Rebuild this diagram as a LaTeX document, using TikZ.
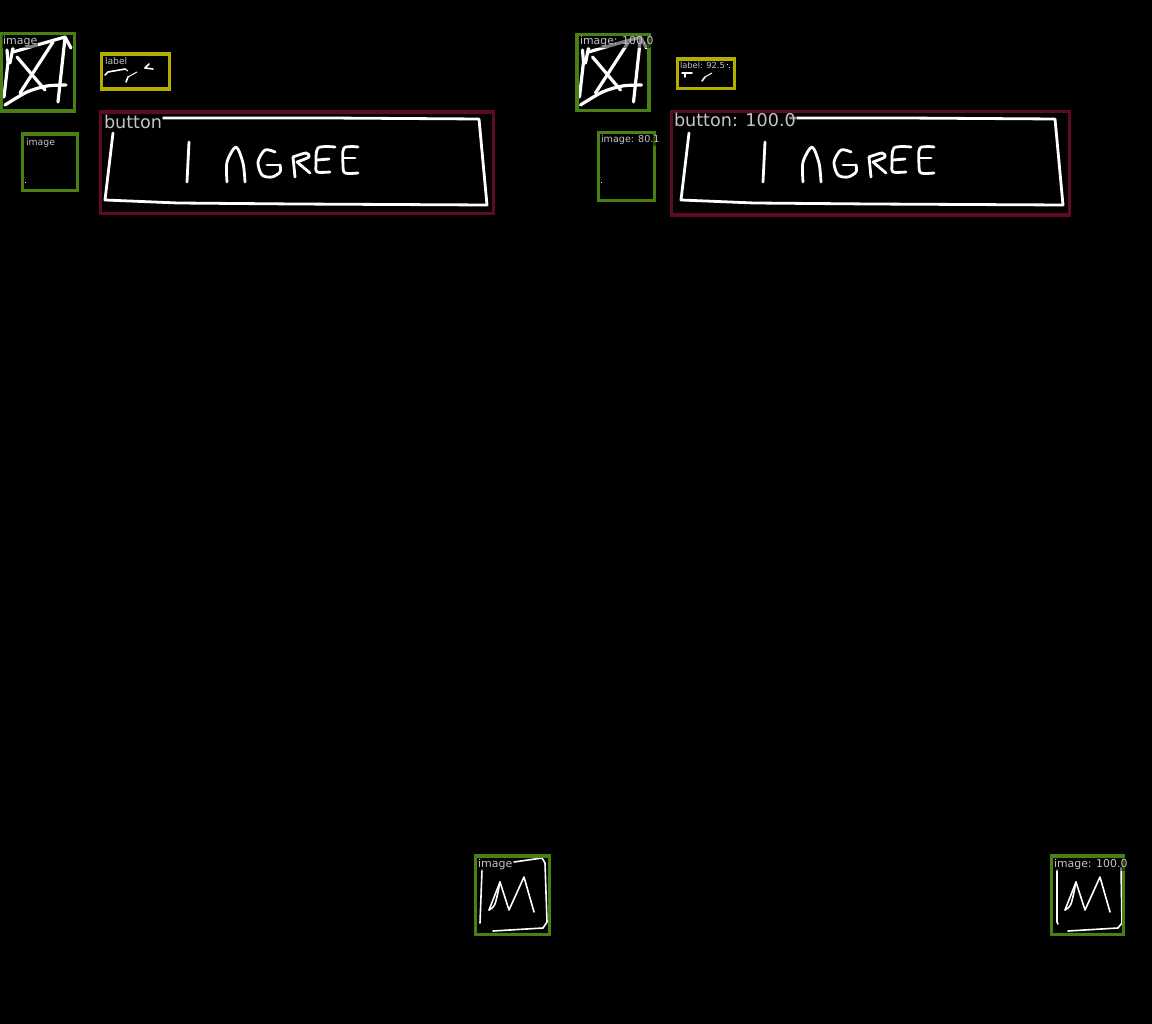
\documentclass[tikz,border=0pt]{standalone}
\usepackage{fontspec}
\setmainfont{DejaVu Sans}
\definecolor{boxgreen}{HTML}{4A7F12}
\definecolor{boxyellow}{HTML}{B4AE00}
\definecolor{boxred}{HTML}{5E0A20}
\definecolor{tagtext}{HTML}{C4C4C4}
% the hand drawn contents, repeated on both sides
\newcommand{\sketchcross}{
  \draw[ink,line width=3.2pt] (4,97) -- (8,62) -- (7,50);
  \draw[ink,line width=3.2pt] (13,48) -- (10,63);
  \draw[ink,line width=3.2pt] (13,52) -- (37,45) -- (65,37) -- (71,48);
  \draw[ink,line width=3.2pt] (17,57) -- (45,90);
  \draw[ink,line width=3.2pt] (53,42) -- (20,93);
  \draw[ink,line width=3.2pt] plot[smooth] coordinates {(5,105) (27,92) (47,86) (66,85)};
  \draw[ink,line width=3.2pt] (65,38) -- (58,102);
}
\newcommand{\sketchagree}{
  \draw[ink] (189,142) -- (187,182);
  \draw[ink] plot[smooth] coordinates {(227,182) (227,162) (236,147) (243,163) (245,182)};
  \draw[ink] plot[smooth] coordinates {(275,152) (265,150) (258,162) (262,175) (272,177) (280,172) (280,165)};
  \draw[ink] (280,165) -- (267,165);
  \draw[ink] (295,177) -- (293,157);
  \draw[ink] plot[smooth] coordinates {(293,157) (306,153) (309,157) (297,162)};
  \draw[ink] (297,162) -- (310,173);
  \draw[ink] plot[smooth] coordinates {(335,147) (318,148) (316,165) (317,172) (330,172)};
  \draw[ink] (317,160) -- (329,159);
  \draw[ink] plot[smooth] coordinates {(358,147) (344,148) (343,165) (345,173) (358,173)};
  \draw[ink] (343,158) -- (355,158);
}
\newcommand{\sketchpeaks}{
  \draw[thinink] (489,910) -- (500,882) -- (509,910) -- (524,877) -- (534,912);
  \draw[thinink] plot[smooth] coordinates {(489,910) (495,904) (500,882)};
}
\begin{document}
\begin{tikzpicture}
  [x=1pt,y=-1pt,
   ink/.style={draw=white,line width=2.8pt,line join=round,line cap=round},
   thinink/.style={draw=white,line width=1.6pt,line join=round,line cap=round},
   speck/.style={draw=white,line width=1pt},
   imagebox/.style={rectangle,draw=boxgreen,line width=3.6pt,inner sep=0,outer sep=0},
   labelbox/.style={rectangle,draw=boxyellow,line width=3.4pt,inner sep=0,outer sep=0},
   buttonbox/.style={rectangle,draw=boxred,line width=3.4pt,inner sep=0,outer sep=0},
   tag/.style={anchor=base west,inner sep=1pt,outer sep=0,fill=black,fill opacity=0.5,
               text opacity=1,text=tagtext}]
  \fill[black] (0,0) rectangle (1152,1024);
  \useasboundingbox (0,0) rectangle (1152,1024);
  % left column
  \sketchcross
  \draw[thinink] (105,75) -- (108,72) -- (125,69);
  \draw[speck] (125,69) -- (128,71);
  \draw[thinink] (126,82) -- (128,77);
  \draw[speck] (128,77) -- (137,72);
  \draw[thinink] (145,68) -- (149,64);
  \draw[thinink] (145,68) -- (153,69);
  \draw[speck] (25,183) -- (25.6,183);
  \draw[ink] (113,133) -- (105,200) -- (178,203) -- (295,204) -- (487,205) -- (479,119) -- (328,118) -- (163,118);
  \sketchagree
  \sketchpeaks
  \draw[thinink] (514,862) -- (542,858) -- (545,863) -- (547,922) -- (543,928) -- (493,931);
  \draw[thinink] (482,870) -- (480,923);
  \node[imagebox,minimum width=73,minimum height=77.5] (imageA) at (38,72.25) {};
  \node[labelbox,minimum width=68,minimum height=35] (labelA) at (135.5,71.7) {};
  \node[imagebox,minimum width=55,minimum height=56.5] (imageB) at (50,162.25) {};
  \node[buttonbox,minimum width=393,minimum height=101.5] (buttonA) at (297,162.75) {};
  \node[imagebox,minimum width=74,minimum height=78.5] (imageC) at (512.5,895.25) {};
  \node[tag,font=\fontsize{11}{13}\selectfont] (tagimageA) at (2,44.5) {image};
  \node[tag,font=\fontsize{9.2}{11}\selectfont] (taglabelA) at (104,65) {label};
  \node[tag,font=\fontsize{9.3}{11}\selectfont] (tagimageB) at (25,145.5) {image};
  \node[tag,font=\fontsize{17.6}{20}\selectfont] (tagbuttonA) at (103,129) {button};
  \node[tag,font=\fontsize{11}{13}\selectfont] (tagimageC) at (477,867.5) {image};
  % right column
  \begin{scope}[xshift=575.5pt]
    \sketchcross
  \end{scope}
  \draw[thinink] (682,73) -- (692,73);
  \draw[thinink] (685,73) -- (685,77);
  \draw[thinink] (702,81) -- (705,77);
  \draw[speck] (705,77) -- (712,73);
  \draw[speck] (727,65) -- (727.8,65);
  \draw[speck] (729,68) -- (729.8,68);
  \draw[speck] (601,183) -- (601.6,183);
  \draw[ink] (689,133) -- (681,200) -- (754,203) -- (871,204) -- (1063,205) -- (1055,119) -- (904,118) -- (790,118);
  \begin{scope}[xshift=576pt]
    \sketchagree
    \sketchpeaks
  \end{scope}
  \draw[thinink] (1057,870) -- (1057,922) -- (1058,924);
  \draw[thinink] (1068,931) -- (1118,928) -- (1122,923) -- (1121,868);
  \node[imagebox,minimum width=71.5,minimum height=76] (imageD) at (613,72.5) {};
  \node[labelbox,minimum width=57,minimum height=29.5] (labelB) at (706,73.75) {};
  \node[imagebox,minimum width=56,minimum height=68] (imageE) at (626.5,166.5) {};
  \node[buttonbox,minimum width=398,minimum height=103.5] (buttonB) at (870.5,163.25) {};
  \node[imagebox,minimum width=72,minimum height=78.5] (imageF) at (1087.5,895.25) {};
  \node[tag,font=\fontsize{10.9}{13}\selectfont] (tagimageD) at (579,45) {image: 100.0};
  \node[tag,font=\fontsize{8.3}{10}\selectfont] (taglabelB) at (679,69) {label: 92.5};
  \node[tag,font=\fontsize{9.6}{11}\selectfont] (tagimageE) at (600,143) {image: 80.1};
  \node[tag,font=\fontsize{17.6}{20}\selectfont] (tagbuttonB) at (673,127) {button: 100.0};
  \node[tag,font=\fontsize{10.9}{13}\selectfont] (tagimageF) at (1053,867.5) {image: 100.0};
\end{tikzpicture}
\end{document}
